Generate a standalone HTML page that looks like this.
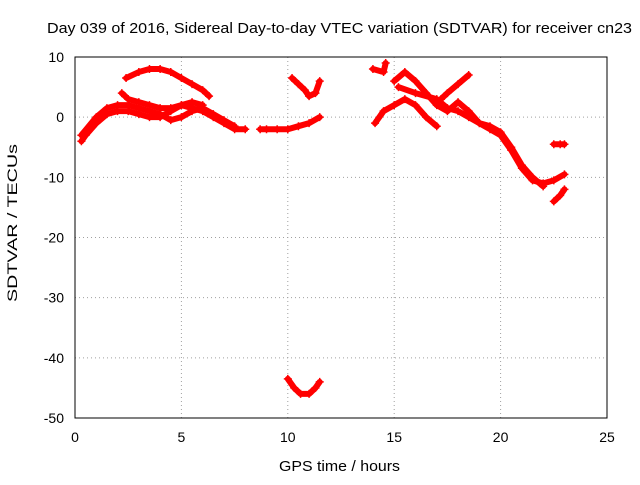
<!DOCTYPE html>
<html><head><meta charset="utf-8"><style>
body{margin:0;background:#fff}
svg text{font-family:"Liberation Sans",sans-serif;font-size:14px;fill:#000}
</style></head><body>
<svg id="c" width="640" height="480">
<text x="47" y="33" textLength="585" lengthAdjust="spacingAndGlyphs" style="font-size:15px">Day 039 of 2016, Sidereal Day-to-day VTEC variation (SDTVAR) for receiver cn23</text>
<text x="279" y="471" textLength="121" lengthAdjust="spacingAndGlyphs" style="font-size:15px">GPS time / hours</text>
<text transform="translate(17,302) rotate(-90)" textLength="158" lengthAdjust="spacingAndGlyphs" style="font-size:14px">SDTVAR / TECUs</text>
<g id="grid"></g><g id="marks"></g>
<rect x="75" y="57" width="532" height="361" fill="none" stroke="#000"/>
</svg>
<script>
const xTicks=[0,5,10,15,20,25];
const yTicks=[-50,-40,-30,-20,-10,0,10];
const tracks=[
[[0.3,-4],[0.5,-3],[1,-1],[1.5,0.5],[2,1],[2.5,1],[3,0.5],[3.5,0],[4,0],[4.5,1],[5,2],[5.5,1.5],[6,1],[6.5,0],[7,-1],[7.5,-2],[8,-2]],
[[2.4,6.5],[3,7.5],[3.5,8],[4,8],[4.5,7.5],[5,6.5],[5.5,5.5],[6,4.5],[6.3,3.5]],
[[2.2,4],[2.5,3],[3,2.5],[3.5,2],[4,1.5],[4.5,1.5],[5,2],[5.5,2.5],[6,2]],
[[0.3,-3],[1,0],[1.5,1.5],[2,2],[2.5,2],[3,1.5],[4,0.5],[4.5,-0.5],[5,0],[5.5,1],[6,1.5],[6.5,0.5],[7,-0.5],[7.5,-1.5]],
[[8.7,-2],[9,-2],[9.5,-2],[10,-2],[10.5,-1.5],[11,-1],[11.5,0]],
[[10.2,6.5],[10.5,5.5],[10.8,4.5],[11,3.5],[11.3,4],[11.5,6]],
[[10,-43.5],[10.3,-45],[10.6,-46],[11,-46],[11.3,-45],[11.5,-44]],
[[14.1,-1],[14.5,1],[15,2],[15.5,3],[16,2],[16.5,0],[17,-1.5]],
[[14,8],[14.5,7.5],[14.6,9]],
[[15,6],[15.5,7.5],[16,6],[16.5,4],[17,2],[17.5,1],[18,2.5],[18.5,1],[19,-1],[19.5,-2],[20,-3],[20.5,-5.5],[21,-8.5],[21.5,-10.5],[22,-11],[22.5,-10.5],[23,-9.5]],
[[15.2,5],[16,4],[17,3],[17.5,1.5],[18,1],[18.5,0],[19,-1],[19.5,-1.5],[20,-2.5],[20.5,-5],[21,-8],[21.5,-10],[22,-11.5]],
[[17.2,3],[17.5,4],[18,5.5],[18.5,7]],
[[22.5,-14],[22.8,-13],[23,-12]],
[[22.5,-4.5],[22.8,-4.5],[23,-4.5]]
];
const X=v=>75+v*532/25, Y=v=>57+(10-v)*361/60;
const NS="http://www.w3.org/2000/svg";
const g=document.getElementById('grid'), m=document.getElementById('marks');
function mk(t,a,p){const e=document.createElementNS(NS,t);for(const k in a)e.setAttribute(k,a[k]);p.appendChild(e);return e;}
xTicks.forEach(t=>{
 const l=mk('line',{x1:X(t),x2:X(t),y1:57,y2:418,stroke:'#a0a0a0','stroke-dasharray':'1,3'},g);
 
 
 const tx=mk('text',{x:X(t),y:442,'text-anchor':'middle'},g);tx.textContent=t;
 
 
});
yTicks.forEach(t=>{
 const l=mk('line',{x1:75,x2:607,y1:Y(t),y2:Y(t),stroke:'#a0a0a0','stroke-dasharray':'1,3'},g);
 
 
 const tx=mk('text',{x:64,y:Y(t)+5,'text-anchor':'end'},g);tx.textContent=t;
 
 
});
tracks.forEach(tr=>{
 const p=mk('polyline',{points:tr.map(d=>X(d[0])+','+Y(d[1])).join(' '),fill:'none',stroke:'#ff0000','stroke-width':6,'stroke-linejoin':'round','stroke-linecap':'round'},m);
 
 
 tr.forEach(d=>{
  const c=mk('path',{d:`M${X(d[0])-4},${Y(d[1])}h8M${X(d[0])},${Y(d[1])-4}v8`,stroke:'#ff0000','stroke-width':1.5},m);
  
  
 });
});
</script>
</body></html>
